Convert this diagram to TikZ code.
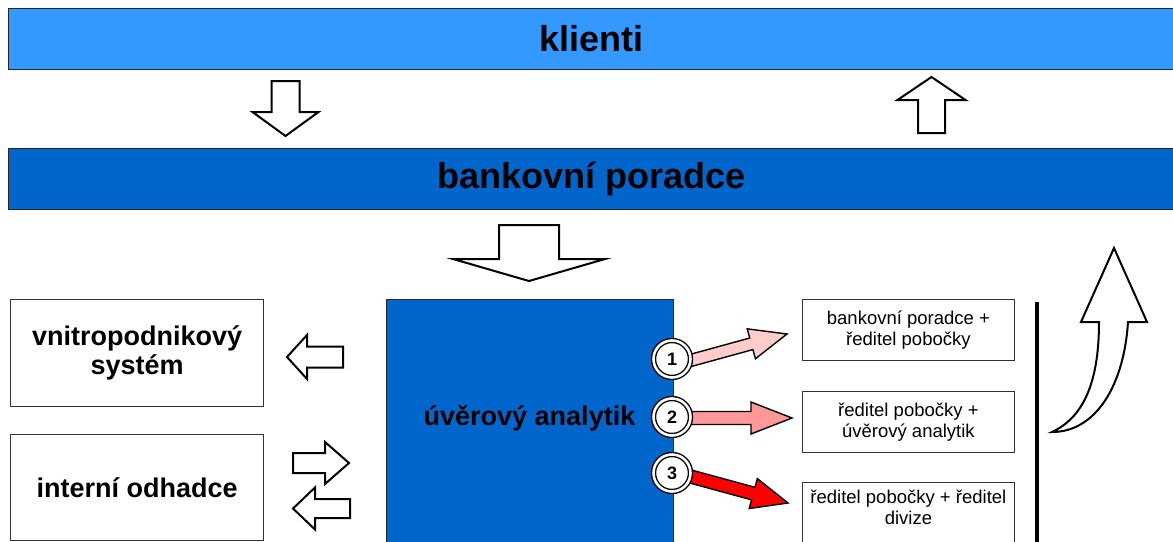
\documentclass[tikz,border=0pt]{standalone}
\usepackage{fontspec}
\setmainfont{Liberation Sans}
\usetikzlibrary{calc}

\definecolor{skyblue}{HTML}{3399FF}
\definecolor{deepblue}{HTML}{0066CC}
\definecolor{palepink}{HTML}{FFCCCC}
\definecolor{salmon}{HTML}{FF9999}
\definecolor{alarmred}{HTML}{FF0000}

% block arrow: style, tail, tip, shaft half width, head half width, head length
\newcommand\blockarrow[6]{%
  \coordinate (ba-base) at ($(#3)!#6!(#2)$);
  \draw[#1] ($(#2)!#4!90:(#3)$) -- ($(ba-base)!#4!90:(#3)$)
    -- ($(ba-base)!#5!90:(#3)$) -- (#3) -- ($(ba-base)!#5!-90:(#3)$)
    -- ($(ba-base)!#4!-90:(#3)$) -- ($(#2)!#4!-90:(#3)$) -- cycle;}

\tikzset{
  bar/.style={draw=black!85, line width=1pt, anchor=north west, inner sep=0pt,
    minimum width=1166pt, minimum height=61pt,
    font=\bfseries\fontsize{36}{40}\selectfont},
  box/.style={draw=black!80, fill=white, anchor=north west, inner sep=0pt, align=center},
  sidebox/.style={box, line width=1.2pt, minimum width=253pt,
    font=\bfseries\fontsize{27}{29}\selectfont},
  optbox/.style={box, line width=0.8pt, minimum width=212pt,
    font=\fontsize{18.5}{21}\selectfont},
  hollow/.style={draw=black, line width=2pt, fill=white, line join=miter},
  tinted/.style={draw=black, line width=1.4pt, line join=miter},
  badge/.style={circle, draw=black, line width=1.4pt, double=white,
    double distance=2.6pt, fill=white, minimum size=37pt, inner sep=0pt,
    font=\bfseries\fontsize{18}{18}\selectfont},
}

\begin{document}
\begin{tikzpicture}[x=1pt, y=-1pt]
\useasboundingbox[fill=white] (0,0) rectangle (1173,541);

% horizontal layers
\node[bar, fill=skyblue] (klienti) at (8,8) {klienti};
\node[bar, fill=deepblue] (poradce) at (8,148) {bankovní poradce};

% central analyst block
\node[box, fill=deepblue, draw=black!85, line width=1.2pt,
  minimum width=287pt, minimum height=265pt] (analytik) at (386,299) {};
\node[font=\bfseries\fontsize{27}{29}\selectfont] (analytiklbl) at (529.5,418) {úvěrový analytik};

% left side systems
\node[sidebox, minimum height=107pt] (system) at (10,299) {vnitropodnikový\\systém};
\node[sidebox, minimum height=106pt] (odhadce) at (10,434) {interní odhadce};

% approval levels
\node[optbox, minimum height=61pt] (opt1) at (802,299) {bankovní poradce +\\ředitel pobočky};
\node[optbox, minimum height=61pt] (opt2) at (802,391) {ředitel pobočky +\\úvěrový analytik};
\node[optbox, minimum height=80pt, text depth=30pt] (opt3) at (802,482) {ředitel pobočky + ředitel\\divize};

% separator
\coordinate (sepTop) at (1037,302);
\coordinate (sepBot) at (1037,560);
\draw[line width=4pt] (sepTop) -- (sepBot);

% hollow flow arrows
\coordinate (d1t) at (285.5,81);   \coordinate (d1h) at (285.5,136);
\coordinate (u1t) at (931.5,133);  \coordinate (u1h) at (931.5,77);
\coordinate (d2t) at (529,225);    \coordinate (d2h) at (529,281);
\coordinate (l1t) at (343,357);    \coordinate (l1h) at (287,357);
\coordinate (r1t) at (293,463);    \coordinate (r1h) at (349,463);
\coordinate (l2t) at (350,508.5);  \coordinate (l2h) at (293,508.5);
\blockarrow{hollow}{d1t}{d1h}{14pt}{33pt}{24pt}
\blockarrow{hollow}{u1t}{u1h}{13.5pt}{34pt}{23pt}
\blockarrow{hollow}{d2t}{d2h}{30pt}{76pt}{22pt}
\blockarrow{hollow}{l1t}{l1h}{10.5pt}{22pt}{20pt}
\blockarrow{hollow}{r1t}{r1h}{10pt}{21pt}{24pt}
\blockarrow{hollow}{l2t}{l2h}{9.5pt}{21pt}{22pt}

% escalation arrows
\coordinate (e1t) at (685,362);  \coordinate (e1h) at (787,334);
\coordinate (e2t) at (685,418);  \coordinate (e2h) at (792,418);
\coordinate (e3t) at (685,475);  \coordinate (e3h) at (788,503);
\blockarrow{tinted, fill=palepink}{e1t}{e1h}{6pt}{15.5pt}{37pt}
\blockarrow{tinted, fill=salmon}{e2t}{e2h}{6.5pt}{16pt}{41pt}
\blockarrow{tinted, fill=alarmred}{e3t}{e3h}{6.5pt}{15.5pt}{36pt}

% numbered badges
\node[badge] (n1) at (672,359) {1};
\node[badge] (n2) at (672,417) {2};
\node[badge] (n3) at (672,473) {3};

% curved return arrow
\draw[hollow] (1052,432) .. controls (1082,418) and (1099,385) .. (1099,322)
  -- (1081,322) -- (1114,248) -- (1147,322) -- (1128,322)
  .. controls (1124,385) and (1096,432) .. (1052,432) -- cycle;
\end{tikzpicture}
\end{document}
